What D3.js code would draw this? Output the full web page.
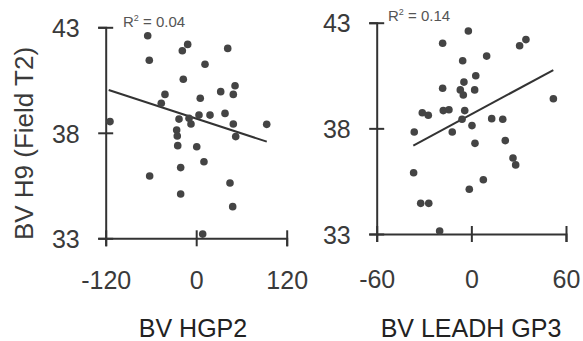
<!DOCTYPE html>
<html>
<head>
<meta charset="utf-8">
<script src="https://cdn.jsdelivr.net/npm/d3@7"></script>
<style>
html,body{margin:0;padding:0;background:#fff;}
svg{display:block;}
text{font-family:"Liberation Sans",Arial,Helvetica,sans-serif;}
</style>
</head>
<body>
<svg id="chart" width="583" height="341"></svg>
<script>
// ---- data ----
const yTicks = [33, 38, 43];
const yTitle = "BV H9 (Field T2)";

const hgp2Ticks = [-120, 0, 120];
const hgp2Title = "BV HGP2";
const hgp2R2 = "0.04";
const hgp2X = [-64.3,-62.2,-11.3,-18.4,41.8,11.7,-17.1,-41.4,-46.3,5.4,32.5,51.5,49.2,-114.3,-22.8,-9.5,-6.9,3.7,18.3,38.2,49.2,52.4,93.5,-25.9,-25.1,-24.5,0.7,-61.7,-20.6,10.3,-20.6,44.8,48.4,8.6];
const hgp2Y = [42.6,41.44,42.19,41.89,42.0,41.25,40.54,39.82,39.4,39.64,39.95,40.23,39.82,38.53,38.65,38.69,38.42,38.84,38.84,38.92,38.42,37.82,38.4,38.13,37.85,37.39,37.34,35.95,36.35,36.63,35.1,35.62,34.5,33.2];
const hgp2FitX = [-116, 93.6];
const hgp2FitY = [40.03, 37.58];

const leadhTicks = [-60, 0, 60];
const leadhTitle = "BV LEADH GP3";
const leadhR2 = "0.14";
const leadhX = [-1.9,-18.2,34.6,30.6,-5.5,9.7,2.8,-4.7,-18.2,-7.0,-5.1,2.1,52.0,-17.8,-14.2,-31.1,-27.3,-4.2,-5.9,12.9,19.9,-36.2,-12.1,0.4,2.3,21.5,26.4,28.1,-36.6,7.6,-1.3,-32.1,-27.0,-20.1];
const leadhY = [42.61,42.03,42.2,41.91,41.2,41.42,40.49,40.19,39.9,39.82,39.58,39.82,39.4,38.84,38.88,38.74,38.62,38.84,38.43,38.46,38.43,37.83,37.83,38.13,37.29,37.42,36.6,36.27,35.9,35.57,35.12,34.45,34.45,33.14];
const leadhFitX = [-36.8, 51.95];
const leadhFitY = [37.18, 40.76];

// ---- drawing ----
const svg = d3.select("#chart");
const lineCol = "#333";
const dotCol = "#444";
const textCol = "#3a3a3a";

function panel(cfg) {
  const x = d3.scaleLinear().domain(d3.extent(cfg.xTicks)).range(cfg.xRange);
  const y = d3.scaleLinear().domain(d3.extent(yTicks)).range(cfg.yRange);
  const g = svg.append("g");

  // y axis
  const ya = g.append("g").attr("transform", `translate(${cfg.xRange[0]},0)`)
    .call(d3.axisLeft(y).tickValues(yTicks).tickSizeOuter(0).tickSize(7.5).tickPadding(18.5));
  ya.select(".domain").attr("stroke", lineCol).attr("stroke-width", 2);
  ya.selectAll(".tick line").attr("x1", 7.5).attr("stroke", lineCol).attr("stroke-width", 2);
  ya.selectAll(".tick text").attr("fill", textCol).attr("font-size", 25).attr("dy", "0.37em");

  // x axis
  const xa = g.append("g").attr("transform", `translate(0,${cfg.yRange[0]})`)
    .call(d3.axisBottom(x).tickValues(cfg.xTicks).tickSizeOuter(0).tickSize(8).tickFormat(d3.format("d")));
  xa.select(".domain").attr("stroke", lineCol).attr("stroke-width", 2);
  xa.selectAll(".tick line").attr("y1", -8).attr("stroke", lineCol).attr("stroke-width", 2);
  xa.selectAll(".tick text").attr("fill", textCol).attr("font-size", 25)
    .attr("y", cfg.labelDy).attr("dy", 0).text(d => d < 0 ? "-" + Math.abs(d) : d);

  // fit line
  g.append("line")
    .attr("x1", x(cfg.fitX[0])).attr("y1", y(cfg.fitY[0]))
    .attr("x2", x(cfg.fitX[1])).attr("y2", y(cfg.fitY[1]))
    .attr("stroke", lineCol).attr("stroke-width", 2);

  // dots
  g.selectAll("circle").data(cfg.xs.map((v, i) => [v, cfg.ys[i]])).join("circle")
    .attr("cx", d => x(d[0])).attr("cy", d => y(d[1])).attr("r", 3.8).attr("fill", dotCol);

  // R^2
  const r = g.append("text").attr("x", cfg.r2Pos[0]).attr("y", cfg.r2Pos[1])
    .attr("font-size", 15).attr("fill", "#555");
  r.append("tspan").text("R");
  r.append("tspan").attr("font-size", 9).attr("dy", -6).text("2");
  r.append("tspan").attr("dy", 6).text(" = " + cfg.r2);

  // x title
  g.append("text").attr("x", cfg.titleX).attr("y", 337).attr("text-anchor", "middle")
    .attr("font-size", 25).attr("fill", "#222").text(cfg.title);
}

panel({xTicks: hgp2Ticks, xRange: [105.7, 286.7], yRange: [238.3, 27.3], labelDy: 51,
  xs: hgp2X, ys: hgp2Y, fitX: hgp2FitX, fitY: hgp2FitY, r2: hgp2R2, r2Pos: [123, 27],
  title: hgp2Title, titleX: 193});
panel({xTicks: leadhTicks, xRange: [376.7, 566], yRange: [234, 22.7], labelDy: 54,
  xs: leadhX, ys: leadhY, fitX: leadhFitX, fitY: leadhFitY, r2: leadhR2, r2Pos: [388, 21],
  title: leadhTitle, titleX: 471});

// y title
svg.append("text").attr("transform", "translate(33,143.5) rotate(-90)")
  .attr("text-anchor", "middle").attr("font-size", 26).attr("fill", "#3a3a3a").text(yTitle);
</script>
</body>
</html>
